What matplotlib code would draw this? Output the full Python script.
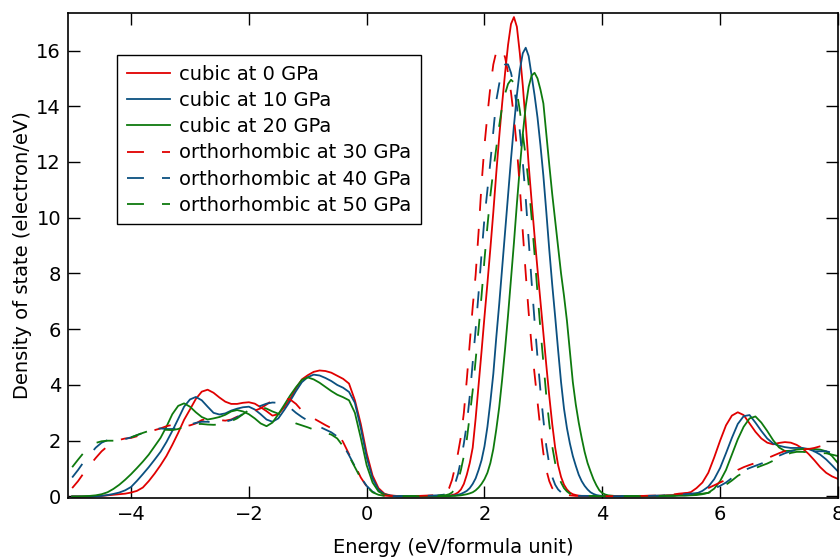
import numpy as np
import matplotlib
matplotlib.use("Agg")
import matplotlib.pyplot as plt

plt.rcParams['font.family'] = ['DejaVu Sans']
plt.rcParams['font.size'] = 14
plt.rcParams['lines.scale_dashes'] = False

# energy grid (eV): coarse in valence band, fine across the big peak, coarse above
energy = np.concatenate([np.linspace(-5.0, 1.3, 64),
                         np.linspace(1.35, 4.2, 58),
                         np.linspace(4.3, 8.0, 38)])

# density of states (electron/eV)
cubic_0 = [
    0.0, 0.0, 0.0, 0.0, 0.01, 0.02, 0.04, 0.06, 0.08, 0.1,
    0.14, 0.2, 0.32, 0.55, 0.82, 1.12, 1.45, 1.85, 2.28, 2.75,
    3.12, 3.5, 3.76, 3.83, 3.72, 3.55, 3.4, 3.32, 3.32, 3.36,
    3.38, 3.33, 3.2, 3.06, 2.9, 2.95, 3.2, 3.5, 3.88, 4.2,
    4.35, 4.47, 4.52, 4.5, 4.44, 4.33, 4.22, 4.05, 3.45, 2.6,
    1.55, 0.75, 0.3, 0.1, 0.04, 0.02, 0.01, 0.01, 0.01, 0.01,
    0.01, 0.01, 0.01, 0.02,
    0.02, 0.03, 0.05, 0.08, 0.14, 0.25, 0.45, 0.78, 1.2, 1.75,
    2.8, 4.0, 5.2, 6.45, 7.65, 8.9, 10.2, 11.6, 12.9, 14.1,
    15.2, 16.2, 16.95, 17.2, 16.85, 15.9, 14.75, 13.4, 11.9, 10.6,
    9.35, 8.15, 7.0, 5.85, 4.7, 3.6, 2.6, 1.75, 1.12, 0.7,
    0.42, 0.25, 0.14, 0.08, 0.05, 0.03, 0.02, 0.02, 0.01, 0.01,
    0.01, 0.01, 0.01, 0.01, 0.01, 0.01, 0.01, 0.01,
    0.01, 0.01, 0.01, 0.01, 0.01, 0.02, 0.02, 0.03, 0.04, 0.05,
    0.07, 0.1, 0.15, 0.3, 0.5, 0.85, 1.4, 2.0, 2.55, 2.9,
    3.02, 2.92, 2.62, 2.32, 2.08, 1.93, 1.87, 1.92, 1.95, 1.93,
    1.85, 1.72, 1.53, 1.3, 1.05, 0.85, 0.72, 0.63]

cubic_10 = [
    0.0, 0.0, 0.0, 0.0, 0.01, 0.02, 0.05, 0.09, 0.14, 0.22,
    0.34, 0.56, 0.8, 1.05, 1.32, 1.6, 1.95, 2.35, 2.78, 3.22,
    3.48, 3.57, 3.45, 3.22, 3.0, 2.94, 2.98, 3.08, 3.15, 3.2,
    3.22, 3.12, 2.95, 2.76, 2.68, 2.8, 3.1, 3.42, 3.78, 4.1,
    4.28, 4.37, 4.34, 4.25, 4.14, 4.0, 3.9, 3.75, 3.36, 2.45,
    1.4, 0.65, 0.24, 0.08, 0.03, 0.01, 0.01, 0.01, 0.01, 0.01,
    0.01, 0.01, 0.01, 0.01,
    0.01, 0.02, 0.03, 0.04, 0.06, 0.09, 0.14, 0.2, 0.3, 0.45,
    0.65, 0.95, 1.3, 1.8, 2.5, 3.4, 4.4, 5.7, 6.9, 8.2,
    9.5, 10.8, 12.1, 13.3, 14.4, 15.3, 15.9, 16.1, 15.8, 15.1,
    14.4, 13.6, 12.6, 11.5, 10.2, 8.85, 7.6, 6.45, 5.25, 4.1,
    3.15, 2.45, 1.9, 1.45, 1.1, 0.78, 0.55, 0.38, 0.25, 0.15,
    0.09, 0.05, 0.03, 0.02, 0.01, 0.01, 0.01, 0.01,
    0.01, 0.01, 0.01, 0.01, 0.01, 0.01, 0.02, 0.02, 0.03, 0.03,
    0.04, 0.04, 0.05, 0.1, 0.2, 0.35, 0.62, 1.02, 1.55, 2.1,
    2.6, 2.88, 2.92, 2.65, 2.35, 2.08, 1.9, 1.82, 1.77, 1.74,
    1.74, 1.74, 1.7, 1.62, 1.5, 1.33, 1.12, 0.9]

cubic_20 = [
    0.0, 0.0, 0.01, 0.02, 0.04, 0.08, 0.15, 0.27, 0.42, 0.6,
    0.8, 1.02, 1.25, 1.5, 1.8, 2.1, 2.5, 2.95, 3.25, 3.34,
    3.22, 3.02, 2.85, 2.76, 2.8, 2.85, 2.93, 3.05, 3.1, 3.05,
    2.95, 2.8, 2.62, 2.52, 2.65, 2.95, 3.28, 3.62, 3.92, 4.18,
    4.27, 4.2, 4.08, 3.93, 3.78, 3.65, 3.56, 3.45, 3.0, 2.1,
    1.12, 0.5, 0.18, 0.06, 0.02, 0.01, 0.01, 0.01, 0.01, 0.01,
    0.01, 0.01, 0.01, 0.01,
    0.01, 0.01, 0.02, 0.02, 0.03, 0.04, 0.06, 0.08, 0.11, 0.15,
    0.22, 0.32, 0.45, 0.62, 0.85, 1.2, 1.7, 2.4, 3.2, 4.2,
    5.3, 6.5, 7.8, 9.1, 10.5, 11.8, 13.0, 14.0, 14.7, 15.1,
    15.2, 15.0, 14.6, 14.1, 13.0, 11.9, 10.85, 9.9, 8.95, 8.0,
    7.2, 6.3, 5.2, 4.1, 3.3, 2.65, 2.1, 1.6, 1.2, 0.9,
    0.62, 0.4, 0.22, 0.12, 0.07, 0.04, 0.03, 0.02,
    0.01, 0.01, 0.01, 0.01, 0.01, 0.01, 0.01, 0.02, 0.02, 0.02,
    0.03, 0.03, 0.04, 0.05, 0.08, 0.13, 0.28, 0.55, 0.95, 1.5,
    2.05, 2.5, 2.8, 2.87, 2.65, 2.35, 2.02, 1.76, 1.63, 1.64,
    1.68, 1.7, 1.71, 1.7, 1.68, 1.62, 1.45, 1.2]

ortho_30 = [
    0.3, 0.55, 0.85, 1.12, 1.38, 1.62, 1.8, 1.94, 2.03, 2.08,
    2.1, 2.16, 2.24, 2.32, 2.38, 2.44, 2.52, 2.57, 2.56, 2.53,
    2.55, 2.62, 2.74, 2.78, 2.77, 2.74, 2.72, 2.76, 2.86, 2.94,
    3.0, 3.08, 3.16, 3.3, 3.45, 3.5, 3.52, 3.48, 3.32, 3.08,
    2.9, 2.8, 2.68, 2.56, 2.45, 2.3, 1.95, 1.52, 1.12, 0.68,
    0.36, 0.16, 0.07, 0.03, 0.02, 0.01, 0.01, 0.01, 0.02, 0.02,
    0.03, 0.04, 0.05, 0.1,
    0.15, 0.3, 0.6, 1.05, 1.55, 2.15, 3.0, 4.2, 5.5, 6.8,
    7.95, 9.5, 11.2, 12.6, 13.7, 14.7, 15.5, 15.95, 16.1, 16.05,
    15.75, 15.2, 14.5, 13.6, 12.5, 11.1, 9.5, 8.0, 6.6, 5.4,
    4.4, 3.4, 2.4, 1.55, 0.95, 0.55, 0.3, 0.18, 0.12, 0.08,
    0.06, 0.05, 0.04, 0.03, 0.02, 0.02, 0.02, 0.02, 0.02, 0.02,
    0.02, 0.02, 0.02, 0.02, 0.01, 0.01, 0.01, 0.01,
    0.01, 0.01, 0.02, 0.02, 0.02, 0.03, 0.03, 0.04, 0.05, 0.07,
    0.1, 0.12, 0.14, 0.18, 0.22, 0.3, 0.4, 0.5, 0.6, 0.78,
    0.95, 1.05, 1.13, 1.2, 1.28, 1.37, 1.46, 1.55, 1.63, 1.69,
    1.71, 1.7, 1.7, 1.74, 1.8, 1.85, 1.92, 2.0]

ortho_40 = [
    0.68, 0.95, 1.25, 1.5, 1.75, 1.93, 2.02, 2.04, 2.04, 2.06,
    2.12, 2.2, 2.28, 2.36, 2.42, 2.44, 2.42, 2.42, 2.46, 2.52,
    2.58, 2.64, 2.68, 2.68, 2.65, 2.64, 2.68, 2.74, 2.84, 2.96,
    3.06, 3.16, 3.25, 3.33, 3.37, 3.36, 3.3, 3.18, 3.0, 2.85,
    2.72, 2.62, 2.5, 2.4, 2.3, 2.15, 1.85, 1.48, 1.08, 0.68,
    0.38, 0.17, 0.07, 0.03, 0.02, 0.01, 0.01, 0.01, 0.01, 0.02,
    0.02, 0.03, 0.04, 0.06,
    0.09, 0.14, 0.22, 0.45, 0.8, 1.3, 1.9, 2.6, 3.6, 4.8,
    6.0, 7.3, 8.7, 10.0, 11.0, 12.0, 13.1, 14.2, 14.8, 15.3,
    15.5, 15.5, 15.2, 14.7, 14.0, 13.1, 12.0, 10.7, 9.2, 7.7,
    6.3, 5.0, 3.8, 2.75, 1.8, 1.15, 0.7, 0.42, 0.25, 0.15,
    0.09, 0.06, 0.04, 0.03, 0.02, 0.02, 0.02, 0.02, 0.02, 0.02,
    0.02, 0.01, 0.01, 0.01, 0.01, 0.01, 0.01, 0.01,
    0.01, 0.01, 0.01, 0.02, 0.02, 0.02, 0.03, 0.03, 0.04, 0.05,
    0.06, 0.08, 0.1, 0.12, 0.15, 0.2, 0.28, 0.38, 0.5, 0.66,
    0.82, 0.93, 1.02, 1.1, 1.18, 1.26, 1.36, 1.46, 1.55, 1.62,
    1.66, 1.66, 1.64, 1.62, 1.62, 1.62, 1.57, 1.5]

ortho_50 = [
    1.05, 1.32, 1.58, 1.78, 1.92, 1.98, 2.0, 2.0, 2.02, 2.06,
    2.12, 2.2, 2.28, 2.35, 2.4, 2.41, 2.39, 2.38, 2.42, 2.5,
    2.56, 2.6, 2.6, 2.58, 2.57, 2.58, 2.62, 2.7, 2.8, 2.95,
    3.1, 3.2, 3.22, 3.15, 3.05, 2.97, 2.85, 2.72, 2.62, 2.55,
    2.48, 2.4, 2.34, 2.28, 2.22, 2.08, 1.8, 1.45, 1.05, 0.65,
    0.35, 0.15, 0.06, 0.02, 0.01, 0.01, 0.01, 0.01, 0.01, 0.01,
    0.02, 0.02, 0.03, 0.04,
    0.05, 0.08, 0.14, 0.3, 0.55, 0.95, 1.45, 2.05, 2.9, 3.8,
    4.9, 6.0, 7.2, 8.5, 9.7, 10.8, 11.7, 12.5, 13.3, 14.0,
    14.45, 14.8, 14.95, 14.85, 14.5, 13.85, 13.0, 12.2, 11.2, 10.0,
    8.7, 7.3, 6.0, 4.8, 3.6, 2.6, 1.8, 1.2, 0.8, 0.5,
    0.3, 0.18, 0.1, 0.06, 0.04, 0.03, 0.02, 0.02, 0.02, 0.02,
    0.02, 0.01, 0.01, 0.01, 0.01, 0.01, 0.01, 0.01,
    0.01, 0.01, 0.01, 0.01, 0.01, 0.02, 0.02, 0.02, 0.03, 0.03,
    0.04, 0.05, 0.06, 0.08, 0.1, 0.13, 0.2, 0.3, 0.42, 0.57,
    0.74, 0.86, 0.95, 1.02, 1.1, 1.18, 1.28, 1.38, 1.48, 1.56,
    1.6, 1.6, 1.58, 1.55, 1.55, 1.55, 1.5, 1.45]

labels = ["cubic at 0 GPa", "cubic at 10 GPa", "cubic at 20 GPa",
          "orthorhombic at 30 GPa", "orthorhombic at 40 GPa",
          "orthorhombic at 50 GPa"]
series = [cubic_0, cubic_10, cubic_20, ortho_30, ortho_40, ortho_50]
colors = ["#e00000", "#0b5080", "#0e7a0e"] * 2

fig = plt.figure(figsize=(8.4, 5.6), dpi=100)
ax = fig.add_axes([0.081, 0.111, 0.9165, 0.866])

for i in range(6):
    if i < 3:
        ax.plot(energy, series[i], color=colors[i], lw=1.3, label=labels[i])
    else:
        ax.plot(energy, series[i], color=colors[i], lw=1.3, linestyle='--',
                dashes=(12.2, 13.0), label=labels[i])

ax.set_xlim(-5.07, 8.0)
ax.set_ylim(-0.05, 17.35)
ax.set_xticks([-4, -2, 0, 2, 4, 6, 8])
ax.set_yticks(np.arange(0, 17, 2))
ax.tick_params(direction='in', length=8.5, width=1.0, top=True, right=True,
               labelsize=14, pad=5)
for sp in ax.spines.values():
    sp.set_linewidth(1.2)

ax.set_xlabel("Energy (eV/formula unit)", fontsize=14, labelpad=10)
ax.set_ylabel("Density of state (electron/eV)", fontsize=14, labelpad=3)

leg = ax.legend(loc='upper left', bbox_to_anchor=(0.0636, 0.913),
                borderaxespad=0, fontsize=14, handlelength=2.2,
                handletextpad=0.5, labelspacing=0.37, borderpad=0.5,
                fancybox=False, framealpha=1)
leg.get_frame().set_edgecolor('black')
leg.get_frame().set_linewidth(1.0)

plt.savefig("out.png", dpi=100)
